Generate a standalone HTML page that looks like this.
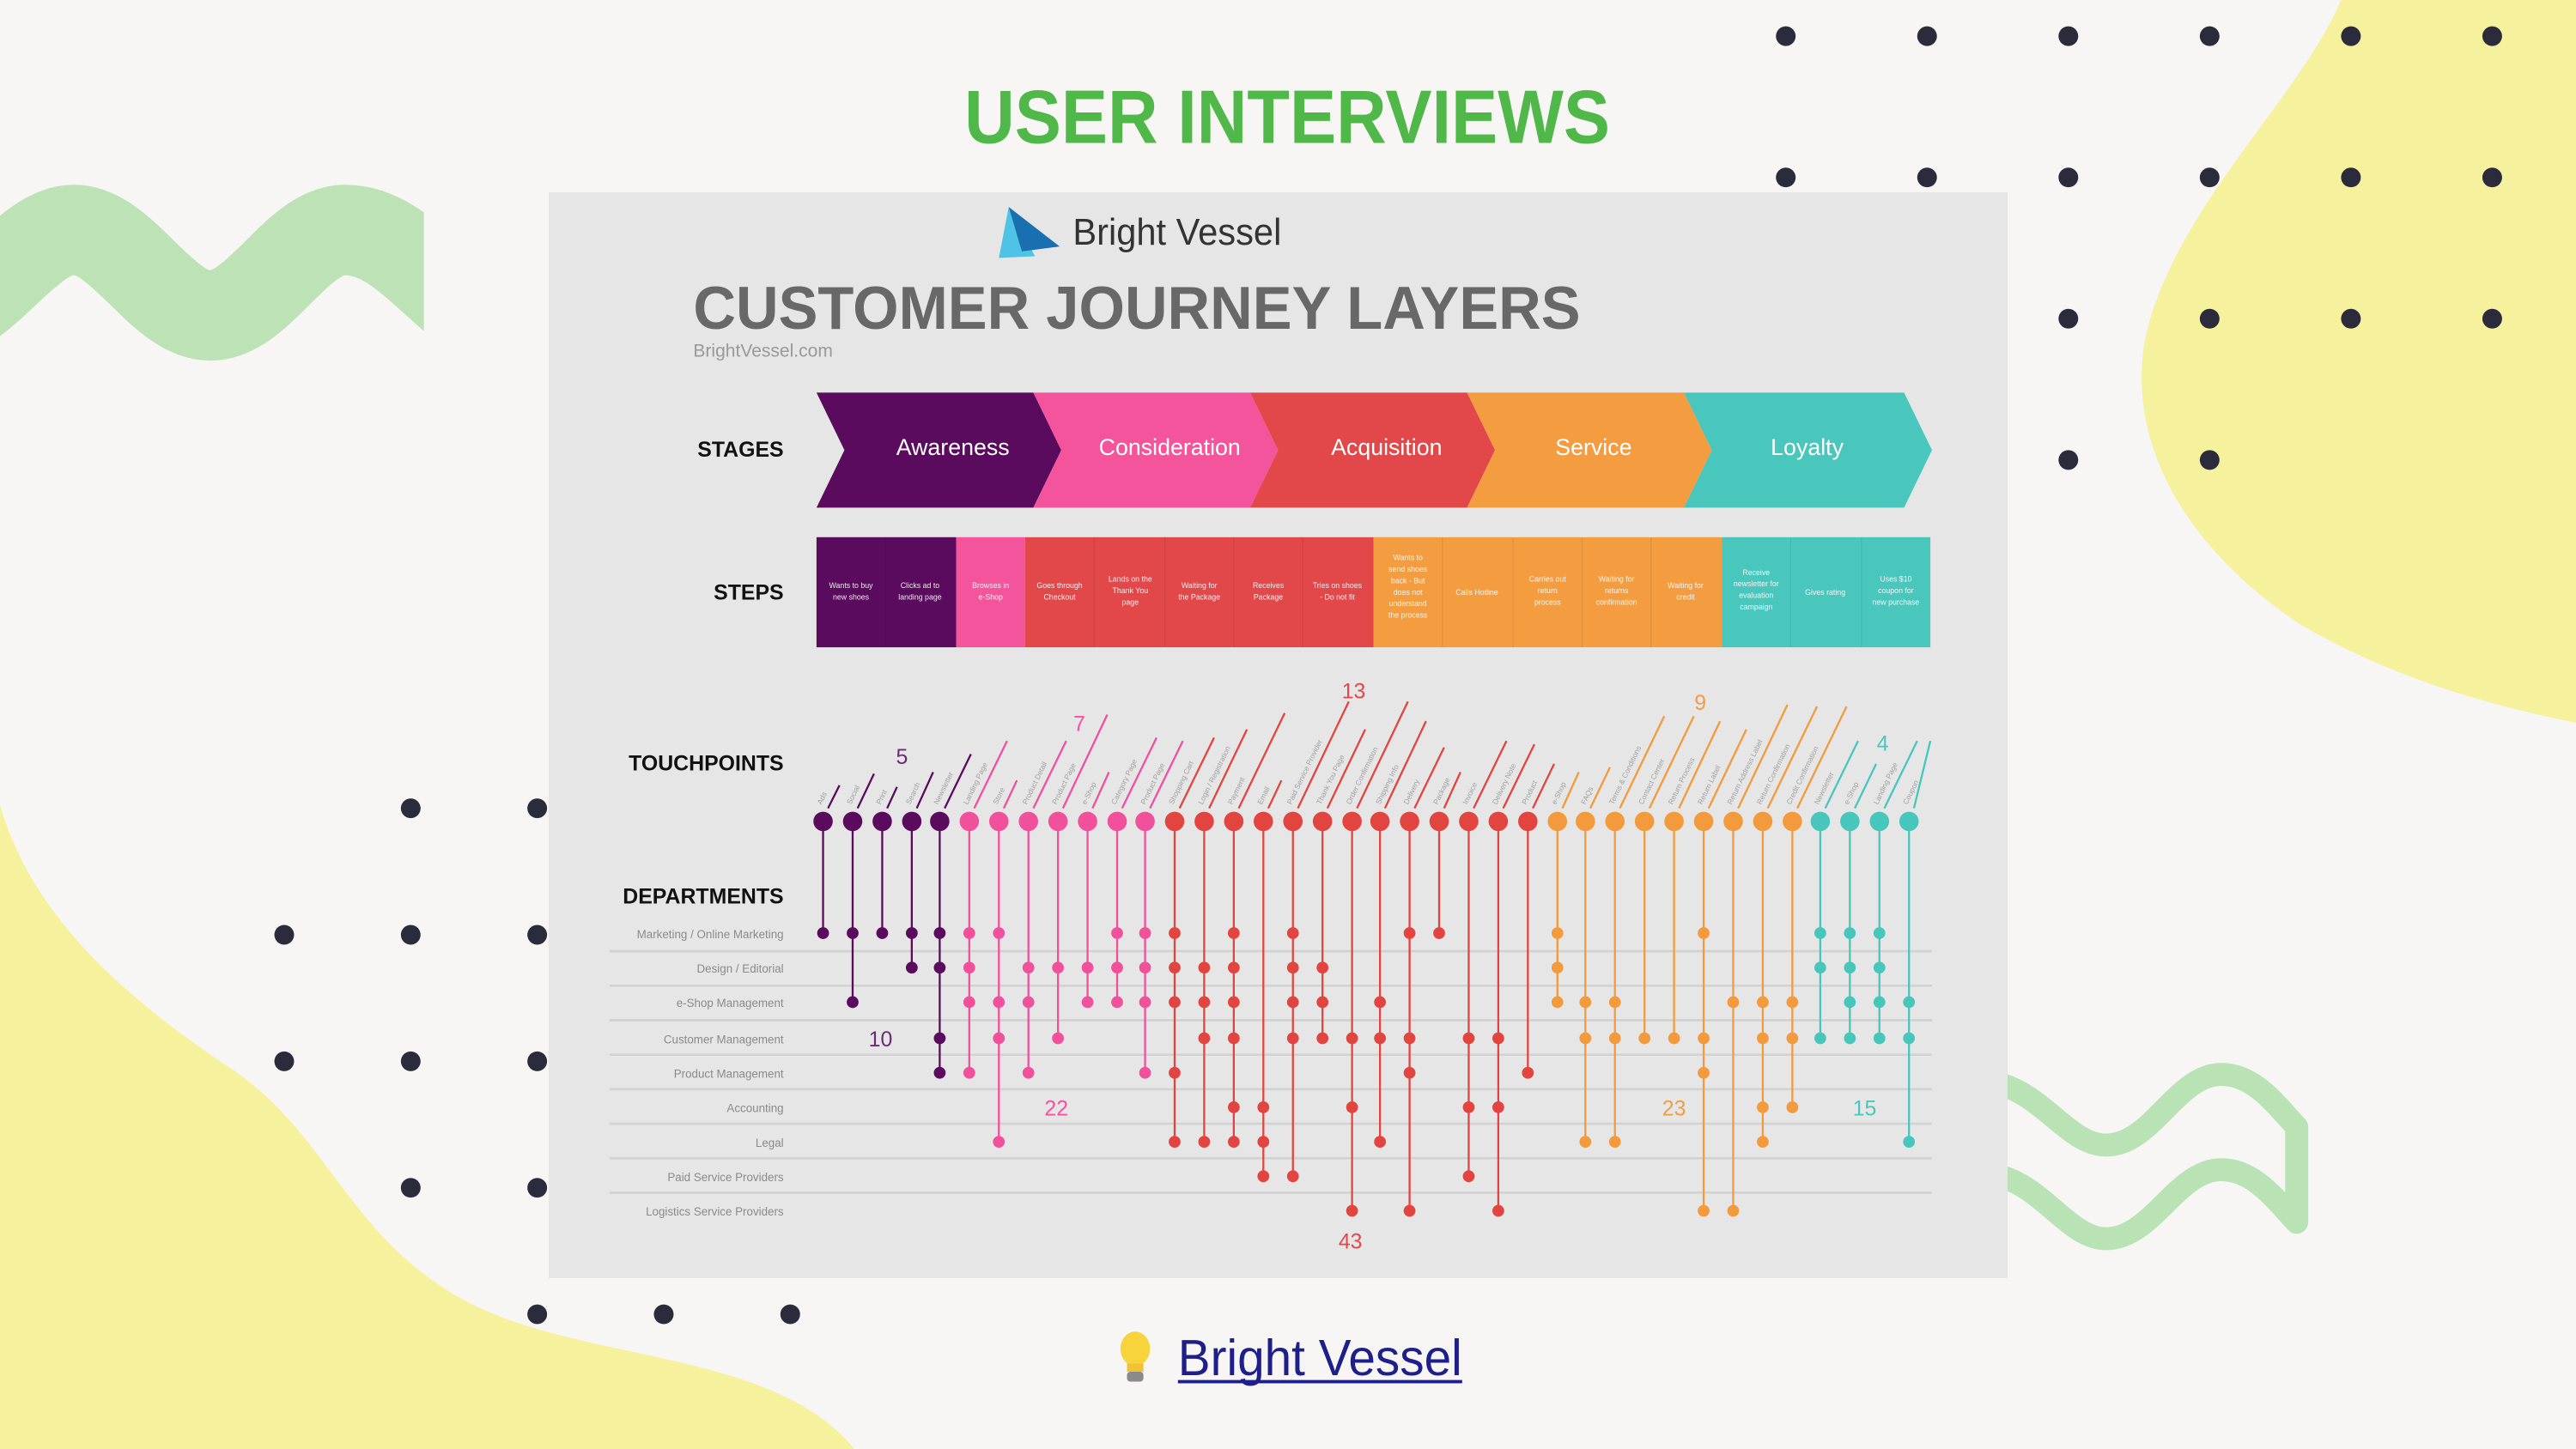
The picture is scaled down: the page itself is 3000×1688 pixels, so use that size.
<!DOCTYPE html>
<html><head><meta charset="utf-8"><style>
html,body{margin:0;padding:0;background:#f7f6f5;}
svg{display:block;}
</style></head><body>
<svg width="3000" height="1688" viewBox="0 0 1568 882" preserveAspectRatio="none" xmlns="http://www.w3.org/2000/svg" font-family="Liberation Sans, sans-serif">
<rect width="1568" height="882" fill="#f7f6f5"/>
<!-- yellow blobs -->
<path d="M1425,0 C1400,60 1320,130 1305,210 C1295,280 1340,340 1400,380 C1460,415 1520,430 1568,440 L1568,0 Z" fill="#f5f19d"/>
<path d="M0,490 C20,560 80,610 140,650 C200,690 210,750 280,790 C350,830 470,820 520,882 L0,882 Z" fill="#f5f19d"/>
<!-- green waves -->
<svg x="0" y="0" width="258" height="260" viewBox="0 0 258 260" overflow="hidden">
<path d="M-40,192 C-10,192 15,140 45,140 C75,140 98,192 128,192 C158,192 180,140 210,140 C240,140 260,170 290,192" fill="none" stroke="#bde2b6" stroke-width="55"/>
</svg>
<path d="M1218,660 C1245,668 1260,697 1282,697 C1310,697 1325,654 1352,654 C1372,654 1385,672 1398,686 L1398,744 C1385,730 1372,712 1352,712 C1325,712 1310,754 1282,754 C1260,754 1245,724 1218,716" fill="none" stroke="#b9e2b5" stroke-width="14" stroke-linejoin="round" stroke-linecap="round"/>
<!-- dots -->
<g fill="#2b2b3b">
<circle cx="1087" cy="22" r="6"/><circle cx="1173" cy="22" r="6"/><circle cx="1259" cy="22" r="6"/><circle cx="1345" cy="22" r="6"/><circle cx="1431" cy="22" r="6"/><circle cx="1517" cy="22" r="6"/>
<circle cx="1087" cy="108" r="6"/><circle cx="1173" cy="108" r="6"/><circle cx="1259" cy="108" r="6"/><circle cx="1345" cy="108" r="6"/><circle cx="1431" cy="108" r="6"/><circle cx="1517" cy="108" r="6"/>
<circle cx="1259" cy="194" r="6"/><circle cx="1345" cy="194" r="6"/><circle cx="1431" cy="194" r="6"/><circle cx="1517" cy="194" r="6"/>
<circle cx="1259" cy="280" r="6"/><circle cx="1345" cy="280" r="6"/>
<circle cx="250" cy="492" r="6"/><circle cx="327" cy="492" r="6"/>
<circle cx="173" cy="569" r="6"/><circle cx="250" cy="569" r="6"/><circle cx="327" cy="569" r="6"/>
<circle cx="173" cy="646" r="6"/><circle cx="250" cy="646" r="6"/><circle cx="327" cy="646" r="6"/>
<circle cx="250" cy="723" r="6"/><circle cx="327" cy="723" r="6"/>
<circle cx="327" cy="800" r="6"/><circle cx="404" cy="800" r="6"/><circle cx="481" cy="800" r="6"/>
</g>
<!-- title -->
<text x="587" y="87" font-size="46" font-weight="bold" fill="#4fb848" textLength="393" lengthAdjust="spacingAndGlyphs">USER INTERVIEWS</text>
<!-- panel -->
<rect x="334" y="117" width="888" height="661" fill="#e6e6e6"/>
<polygon points="614,126 608,157 630,156" fill="#4fc3e6"/>
<polygon points="614,126 645,150 622,153" fill="#1a6fb0"/>
<text x="653" y="149" font-size="23" fill="#333" textLength="127" lengthAdjust="spacingAndGlyphs">Bright Vessel</text>
<text x="422" y="200" font-size="37" font-weight="bold" fill="#686868" textLength="540" lengthAdjust="spacingAndGlyphs">CUSTOMER JOURNEY LAYERS</text>
<text x="422" y="217" font-size="11" fill="#999">BrightVessel.com</text>
<g font-size="13" font-weight="bold" fill="#111" text-anchor="end">
<text x="477" y="278">STAGES</text>
<text x="477" y="365">STEPS</text>
<text x="477" y="469">TOUCHPOINTS</text>
<text x="477" y="550">DEPARTMENTS</text>
</g>
<!-- stages -->
<polygon points="497,239 629,239 646,274 629,309 497,309 514,274" fill="#5b0b5e"/>
<polygon points="629,239 761,239 778,274 761,309 629,309 646,274" fill="#f4549c"/>
<polygon points="761,239 893,239 910,274 893,309 761,309 778,274" fill="#e2474a"/>
<polygon points="893,239 1025,239 1042,274 1025,309 893,309 910,274" fill="#f39c40"/>
<polygon points="1025,239 1159,239 1176,274 1159,309 1025,309 1042,274" fill="#4ac7bd"/>
<g font-size="14" fill="#fff" text-anchor="middle">
<text x="580" y="277">Awareness</text>
<text x="712" y="277">Consideration</text>
<text x="844" y="277">Acquisition</text>
<text x="970" y="277">Service</text>
<text x="1100" y="277">Loyalty</text>
</g>
<!-- steps -->
<rect x="497" y="327" width="85" height="67" fill="#5b0b5e"/>
<rect x="582" y="327" width="42" height="67" fill="#f4549c"/>
<rect x="624" y="327" width="212" height="67" fill="#e2474a"/>
<rect x="836" y="327" width="212" height="67" fill="#f39c40"/>
<rect x="1048" y="327" width="127" height="67" fill="#4ac7bd"/>
<g stroke="#000" stroke-opacity="0.08" stroke-width="0.6">
<line x1="539" y1="327" x2="539" y2="394"/><line x1="666" y1="327" x2="666" y2="394"/><line x1="709" y1="327" x2="709" y2="394"/><line x1="751" y1="327" x2="751" y2="394"/><line x1="793" y1="327" x2="793" y2="394"/><line x1="878" y1="327" x2="878" y2="394"/><line x1="921" y1="327" x2="921" y2="394"/><line x1="963" y1="327" x2="963" y2="394"/><line x1="1005" y1="327" x2="1005" y2="394"/><line x1="1090" y1="327" x2="1090" y2="394"/><line x1="1133" y1="327" x2="1133" y2="394"/>
</g>
<g font-size="4.6" fill="#fff" text-anchor="middle" fill-opacity="0.9">
<text x="518" y="358">Wants to buy<tspan x="518" dy="7">new shoes</tspan></text>
<text x="560" y="358">Clicks ad to<tspan x="560" dy="7">landing page</tspan></text>
<text x="603" y="358">Browses in<tspan x="603" dy="7">e-Shop</tspan></text>
<text x="645" y="358">Goes through<tspan x="645" dy="7">Checkout</tspan></text>
<text x="688" y="354">Lands on the<tspan x="688" dy="7">Thank You</tspan><tspan x="688" dy="7">page</tspan></text>
<text x="730" y="358">Waiting for<tspan x="730" dy="7">the Package</tspan></text>
<text x="772" y="358">Receives<tspan x="772" dy="7">Package</tspan></text>
<text x="814" y="358">Tries on shoes<tspan x="814" dy="7">- Do not fit</tspan></text>
<text x="857" y="341">Wants to<tspan x="857" dy="7">send shoes</tspan><tspan x="857" dy="7">back - But</tspan><tspan x="857" dy="7">does not</tspan><tspan x="857" dy="7">understand</tspan><tspan x="857" dy="7">the process</tspan></text>
<text x="899" y="362">Calls Hotline</text>
<text x="942" y="354">Carries out<tspan x="942" dy="7">return</tspan><tspan x="942" dy="7">process</tspan></text>
<text x="984" y="354">Waiting for<tspan x="984" dy="7">returns</tspan><tspan x="984" dy="7">confirmation</tspan></text>
<text x="1026" y="358">Waiting for<tspan x="1026" dy="7">credit</tspan></text>
<text x="1069" y="350">Receive<tspan x="1069" dy="7">newsletter for</tspan><tspan x="1069" dy="7">evaluation</tspan><tspan x="1069" dy="7">campaign</tspan></text>
<text x="1111" y="362">Gives rating</text>
<text x="1154" y="354">Uses $10<tspan x="1154" dy="7">coupon for</tspan><tspan x="1154" dy="7">new purchase</tspan></text>
</g>
<!-- department rows -->
<g stroke="#d2d2d2" stroke-width="1.4">
<line x1="371" y1="579" x2="1176" y2="579"/><line x1="371" y1="600" x2="1176" y2="600"/><line x1="371" y1="621" x2="1176" y2="621"/><line x1="371" y1="642" x2="1176" y2="642"/><line x1="371" y1="663" x2="1176" y2="663"/><line x1="371" y1="684" x2="1176" y2="684"/><line x1="371" y1="705" x2="1176" y2="705"/><line x1="371" y1="726" x2="1176" y2="726"/>
</g>
<g font-size="7" fill="#8a8a8a" text-anchor="end">
<text x="477" y="571">Marketing / Online Marketing</text>
<text x="477" y="592">Design / Editorial</text>
<text x="477" y="613">e-Shop Management</text>
<text x="477" y="635">Customer Management</text>
<text x="477" y="656">Product Management</text>
<text x="477" y="677">Accounting</text>
<text x="477" y="698">Legal</text>
<text x="477" y="719">Paid Service Providers</text>
<text x="477" y="740">Logistics Service Providers</text>
</g>
<!-- numbers -->
<g font-size="13">
<text x="549" y="465" fill="#6b2a78" text-anchor="middle">5</text>
<text x="657" y="445" fill="#f4549c" text-anchor="middle">7</text>
<text x="824" y="425" fill="#e2474a" text-anchor="middle">13</text>
<text x="1035" y="432" fill="#f39c40" text-anchor="middle">9</text>
<text x="1146" y="457" fill="#4ac7bd" text-anchor="middle">4</text>
<text x="536" y="637" fill="#6b2a78" text-anchor="middle">10</text>
<text x="643" y="679" fill="#f4549c" text-anchor="middle">22</text>
<text x="822" y="760" fill="#e2474a" text-anchor="middle">43</text>
<text x="1019" y="679" fill="#f39c40" text-anchor="middle">23</text>
<text x="1135" y="679" fill="#4ac7bd" text-anchor="middle">15</text>
</g>
<!-- touchpoint labels -->
<g font-size="4.5" fill="#a0a0a0">
<text transform="translate(500,490) rotate(-64)">Ads</text>
<text transform="translate(518,490) rotate(-64)">Social</text>
<text transform="translate(536,490) rotate(-64)">Print</text>
<text transform="translate(554,490) rotate(-64)">Search</text>
<text transform="translate(571,490) rotate(-64)">Newsletter</text>
<text transform="translate(589,490) rotate(-64)">Landing Page</text>
<text transform="translate(607,490) rotate(-64)">Store</text>
<text transform="translate(625,490) rotate(-64)">Product Detail</text>
<text transform="translate(643,490) rotate(-64)">Product Page</text>
<text transform="translate(661,490) rotate(-64)">e-Shop</text>
<text transform="translate(679,490) rotate(-64)">Category Page</text>
<text transform="translate(697,490) rotate(-64)">Product Page</text>
<text transform="translate(714,490) rotate(-64)">Shopping Cart</text>
<text transform="translate(732,490) rotate(-64)">Login / Registration</text>
<text transform="translate(750,490) rotate(-64)">Payment</text>
<text transform="translate(768,490) rotate(-64)">Email</text>
<text transform="translate(786,490) rotate(-64)">Paid Service Provider</text>
<text transform="translate(804,490) rotate(-64)">Thank You Page</text>
<text transform="translate(822,490) rotate(-64)">Order Confirmation</text>
<text transform="translate(840,490) rotate(-64)">Shipping Info</text>
<text transform="translate(857,490) rotate(-64)">Delivery</text>
<text transform="translate(875,490) rotate(-64)">Package</text>
<text transform="translate(893,490) rotate(-64)">Invoice</text>
<text transform="translate(911,490) rotate(-64)">Delivery Note</text>
<text transform="translate(929,490) rotate(-64)">Product</text>
<text transform="translate(947,490) rotate(-64)">e-Shop</text>
<text transform="translate(965,490) rotate(-64)">FAQs</text>
<text transform="translate(982,490) rotate(-64)">Terms &amp; Conditions</text>
<text transform="translate(1000,490) rotate(-64)">Contact Center</text>
<text transform="translate(1018,490) rotate(-64)">Return Process</text>
<text transform="translate(1036,490) rotate(-64)">Return Label</text>
<text transform="translate(1054,490) rotate(-64)">Return Address Label</text>
<text transform="translate(1072,490) rotate(-64)">Return Confirmation</text>
<text transform="translate(1090,490) rotate(-64)">Credit Confirmation</text>
<text transform="translate(1107,490) rotate(-64)">Newsletter</text>
<text transform="translate(1125,490) rotate(-64)">e-Shop</text>
<text transform="translate(1143,490) rotate(-64)">Landing Page</text>
<text transform="translate(1161,490) rotate(-64)">Coupon</text>
</g>
<!-- columns -->
<g stroke-width="1.2">
<g fill="#5b0b5e" stroke="#5b0b5e">
<line x1="501" y1="500" x2="501" y2="568"/><line x1="504" y1="492" x2="511" y2="478"/><circle cx="501" cy="500" r="5.3"/><circle cx="501" cy="568" r="3"/>
<line x1="519" y1="500" x2="519" y2="610"/><line x1="522" y1="492" x2="532" y2="471"/><circle cx="519" cy="500" r="5.3"/><circle cx="519" cy="568" r="3"/><circle cx="519" cy="610" r="3"/>
<line x1="537" y1="500" x2="537" y2="568"/><line x1="540" y1="492" x2="546" y2="479"/><circle cx="537" cy="500" r="5.3"/><circle cx="537" cy="568" r="3"/>
<line x1="555" y1="500" x2="555" y2="589"/><line x1="558" y1="492" x2="568" y2="470"/><circle cx="555" cy="500" r="5.3"/><circle cx="555" cy="568" r="3"/><circle cx="555" cy="589" r="3"/>
<line x1="572" y1="500" x2="572" y2="653"/><line x1="575" y1="492" x2="591" y2="459"/><circle cx="572" cy="500" r="5.3"/><circle cx="572" cy="568" r="3"/><circle cx="572" cy="589" r="3"/><circle cx="572" cy="632" r="3"/><circle cx="572" cy="653" r="3"/>
</g>
<g fill="#f1509b" stroke="#f1509b">
<line x1="590" y1="500" x2="590" y2="653"/><line x1="593" y1="492" x2="613" y2="451"/><circle cx="590" cy="500" r="5.3"/><circle cx="590" cy="568" r="3"/><circle cx="590" cy="589" r="3"/><circle cx="590" cy="610" r="3"/><circle cx="590" cy="653" r="3"/>
<line x1="608" y1="500" x2="608" y2="695"/><line x1="611" y1="492" x2="619" y2="475"/><circle cx="608" cy="500" r="5.3"/><circle cx="608" cy="568" r="3"/><circle cx="608" cy="610" r="3"/><circle cx="608" cy="632" r="3"/><circle cx="608" cy="695" r="3"/>
<line x1="626" y1="500" x2="626" y2="653"/><line x1="629" y1="492" x2="649" y2="451"/><circle cx="626" cy="500" r="5.3"/><circle cx="626" cy="589" r="3"/><circle cx="626" cy="610" r="3"/><circle cx="626" cy="653" r="3"/>
<line x1="644" y1="500" x2="644" y2="632"/><line x1="647" y1="492" x2="674" y2="435"/><circle cx="644" cy="500" r="5.3"/><circle cx="644" cy="589" r="3"/><circle cx="644" cy="632" r="3"/>
<line x1="662" y1="500" x2="662" y2="610"/><line x1="665" y1="492" x2="675" y2="470"/><circle cx="662" cy="500" r="5.3"/><circle cx="662" cy="589" r="3"/><circle cx="662" cy="610" r="3"/>
<line x1="680" y1="500" x2="680" y2="610"/><line x1="683" y1="492" x2="704" y2="449"/><circle cx="680" cy="500" r="5.3"/><circle cx="680" cy="568" r="3"/><circle cx="680" cy="589" r="3"/><circle cx="680" cy="610" r="3"/>
<line x1="697" y1="500" x2="697" y2="653"/><line x1="700" y1="492" x2="720" y2="451"/><circle cx="697" cy="500" r="5.3"/><circle cx="697" cy="568" r="3"/><circle cx="697" cy="589" r="3"/><circle cx="697" cy="610" r="3"/><circle cx="697" cy="653" r="3"/>
</g>
<g fill="#e2443f" stroke="#e2443f">
<line x1="715" y1="500" x2="715" y2="695"/><line x1="718" y1="492" x2="739" y2="449"/><circle cx="715" cy="500" r="5.3"/><circle cx="715" cy="568" r="3"/><circle cx="715" cy="589" r="3"/><circle cx="715" cy="610" r="3"/><circle cx="715" cy="653" r="3"/><circle cx="715" cy="695" r="3"/>
<line x1="733" y1="500" x2="733" y2="695"/><line x1="736" y1="492" x2="759" y2="444"/><circle cx="733" cy="500" r="5.3"/><circle cx="733" cy="589" r="3"/><circle cx="733" cy="610" r="3"/><circle cx="733" cy="632" r="3"/><circle cx="733" cy="695" r="3"/>
<line x1="751" y1="500" x2="751" y2="695"/><line x1="754" y1="492" x2="782" y2="434"/><circle cx="751" cy="500" r="5.3"/><circle cx="751" cy="568" r="3"/><circle cx="751" cy="589" r="3"/><circle cx="751" cy="610" r="3"/><circle cx="751" cy="632" r="3"/><circle cx="751" cy="674" r="3"/><circle cx="751" cy="695" r="3"/>
<line x1="769" y1="500" x2="769" y2="716"/><line x1="772" y1="492" x2="780" y2="475"/><circle cx="769" cy="500" r="5.3"/><circle cx="769" cy="674" r="3"/><circle cx="769" cy="695" r="3"/><circle cx="769" cy="716" r="3"/>
<line x1="787" y1="500" x2="787" y2="716"/><line x1="790" y1="492" x2="821" y2="427"/><circle cx="787" cy="500" r="5.3"/><circle cx="787" cy="568" r="3"/><circle cx="787" cy="589" r="3"/><circle cx="787" cy="610" r="3"/><circle cx="787" cy="632" r="3"/><circle cx="787" cy="716" r="3"/>
<line x1="805" y1="500" x2="805" y2="632"/><line x1="808" y1="492" x2="831" y2="444"/><circle cx="805" cy="500" r="5.3"/><circle cx="805" cy="589" r="3"/><circle cx="805" cy="610" r="3"/><circle cx="805" cy="632" r="3"/>
<line x1="823" y1="500" x2="823" y2="737"/><line x1="826" y1="492" x2="857" y2="427"/><circle cx="823" cy="500" r="5.3"/><circle cx="823" cy="632" r="3"/><circle cx="823" cy="674" r="3"/><circle cx="823" cy="737" r="3"/>
<line x1="840" y1="500" x2="840" y2="695"/><line x1="843" y1="492" x2="868" y2="439"/><circle cx="840" cy="500" r="5.3"/><circle cx="840" cy="610" r="3"/><circle cx="840" cy="632" r="3"/><circle cx="840" cy="695" r="3"/>
<line x1="858" y1="500" x2="858" y2="737"/><line x1="861" y1="492" x2="879" y2="455"/><circle cx="858" cy="500" r="5.3"/><circle cx="858" cy="568" r="3"/><circle cx="858" cy="632" r="3"/><circle cx="858" cy="653" r="3"/><circle cx="858" cy="737" r="3"/>
<line x1="876" y1="500" x2="876" y2="568"/><line x1="879" y1="492" x2="889" y2="470"/><circle cx="876" cy="500" r="5.3"/><circle cx="876" cy="568" r="3"/>
<line x1="894" y1="500" x2="894" y2="716"/><line x1="897" y1="492" x2="917" y2="451"/><circle cx="894" cy="500" r="5.3"/><circle cx="894" cy="632" r="3"/><circle cx="894" cy="674" r="3"/><circle cx="894" cy="716" r="3"/>
<line x1="912" y1="500" x2="912" y2="737"/><line x1="915" y1="492" x2="934" y2="453"/><circle cx="912" cy="500" r="5.3"/><circle cx="912" cy="632" r="3"/><circle cx="912" cy="674" r="3"/><circle cx="912" cy="737" r="3"/>
<line x1="930" y1="500" x2="930" y2="653"/><line x1="933" y1="492" x2="946" y2="465"/><circle cx="930" cy="500" r="5.3"/><circle cx="930" cy="653" r="3"/>
</g>
<g fill="#f39a3c" stroke="#f39a3c">
<line x1="948" y1="500" x2="948" y2="610"/><line x1="951" y1="492" x2="961" y2="470"/><circle cx="948" cy="500" r="5.3"/><circle cx="948" cy="568" r="3"/><circle cx="948" cy="589" r="3"/><circle cx="948" cy="610" r="3"/>
<line x1="965" y1="500" x2="965" y2="695"/><line x1="968" y1="492" x2="980" y2="467"/><circle cx="965" cy="500" r="5.3"/><circle cx="965" cy="610" r="3"/><circle cx="965" cy="632" r="3"/><circle cx="965" cy="695" r="3"/>
<line x1="983" y1="500" x2="983" y2="695"/><line x1="986" y1="492" x2="1013" y2="436"/><circle cx="983" cy="500" r="5.3"/><circle cx="983" cy="610" r="3"/><circle cx="983" cy="632" r="3"/><circle cx="983" cy="695" r="3"/>
<line x1="1001" y1="500" x2="1001" y2="632"/><line x1="1004" y1="492" x2="1031" y2="436"/><circle cx="1001" cy="500" r="5.3"/><circle cx="1001" cy="632" r="3"/>
<line x1="1019" y1="500" x2="1019" y2="632"/><line x1="1022" y1="492" x2="1047" y2="439"/><circle cx="1019" cy="500" r="5.3"/><circle cx="1019" cy="632" r="3"/>
<line x1="1037" y1="500" x2="1037" y2="737"/><line x1="1040" y1="492" x2="1063" y2="444"/><circle cx="1037" cy="500" r="5.3"/><circle cx="1037" cy="568" r="3"/><circle cx="1037" cy="632" r="3"/><circle cx="1037" cy="653" r="3"/><circle cx="1037" cy="737" r="3"/>
<line x1="1055" y1="500" x2="1055" y2="737"/><line x1="1058" y1="492" x2="1088" y2="429"/><circle cx="1055" cy="500" r="5.3"/><circle cx="1055" cy="610" r="3"/><circle cx="1055" cy="737" r="3"/>
<line x1="1073" y1="500" x2="1073" y2="695"/><line x1="1076" y1="492" x2="1106" y2="430"/><circle cx="1073" cy="500" r="5.3"/><circle cx="1073" cy="610" r="3"/><circle cx="1073" cy="632" r="3"/><circle cx="1073" cy="674" r="3"/><circle cx="1073" cy="695" r="3"/>
<line x1="1091" y1="500" x2="1091" y2="674"/><line x1="1094" y1="492" x2="1124" y2="430"/><circle cx="1091" cy="500" r="5.3"/><circle cx="1091" cy="610" r="3"/><circle cx="1091" cy="632" r="3"/><circle cx="1091" cy="674" r="3"/>
</g>
<g fill="#47c6bb" stroke="#47c6bb">
<line x1="1108" y1="500" x2="1108" y2="632"/><line x1="1111" y1="492" x2="1131" y2="451"/><circle cx="1108" cy="500" r="5.3"/><circle cx="1108" cy="568" r="3"/><circle cx="1108" cy="589" r="3"/><circle cx="1108" cy="632" r="3"/>
<line x1="1126" y1="500" x2="1126" y2="632"/><line x1="1129" y1="492" x2="1142" y2="465"/><circle cx="1126" cy="500" r="5.3"/><circle cx="1126" cy="568" r="3"/><circle cx="1126" cy="589" r="3"/><circle cx="1126" cy="610" r="3"/><circle cx="1126" cy="632" r="3"/>
<line x1="1144" y1="500" x2="1144" y2="632"/><line x1="1147" y1="492" x2="1167" y2="451"/><circle cx="1144" cy="500" r="5.3"/><circle cx="1144" cy="568" r="3"/><circle cx="1144" cy="589" r="3"/><circle cx="1144" cy="610" r="3"/><circle cx="1144" cy="632" r="3"/>
<line x1="1162" y1="500" x2="1162" y2="695"/><line x1="1165" y1="492" x2="1175" y2="451"/><circle cx="1162" cy="500" r="5.3"/><circle cx="1162" cy="610" r="3"/><circle cx="1162" cy="632" r="3"/><circle cx="1162" cy="695" r="3"/>
</g>
</g>
<!-- footer link -->
<ellipse cx="691" cy="821" rx="9" ry="10.5" fill="#f7d43b"/>
<rect x="686" y="830" width="10" height="5" fill="#f1c232"/>
<rect x="686" y="835" width="10" height="6" rx="2" fill="#8a8a8a"/>
<text x="717" y="837" font-size="31" fill="#1f1f8c" textLength="173" lengthAdjust="spacingAndGlyphs">Bright Vessel</text>
<rect x="717" y="840" width="173" height="2" fill="#1f1f8c"/>
</svg>
</body></html>
